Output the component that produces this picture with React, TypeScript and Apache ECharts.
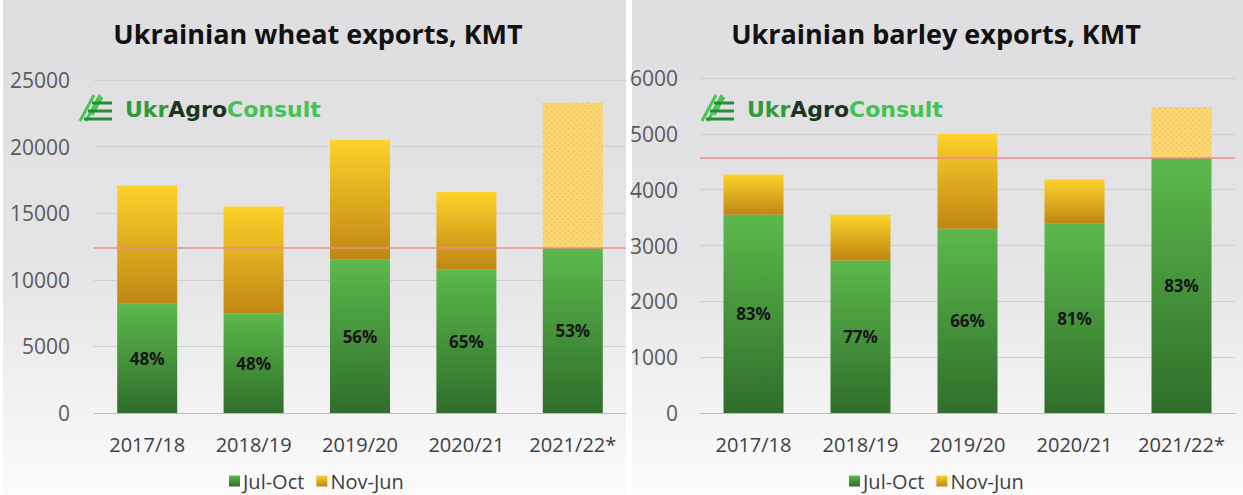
import React, { useEffect, useRef } from "react";
import * as echarts from "echarts";

const seasons = ["2017/18", "2018/19", "2019/20", "2020/21", "2021/22*"];
const wheatJulOct = [8200, 7450, 11500, 10800, 12400];
const wheatNovJun = [8900, 8050, 9000, 5800, 10900];
const wheatPct = ["48%", "48%", "56%", "65%", "53%"];
const wheatRef = 12400;
const wheatTicks = { min: 0, max: 25000, interval: 5000 };

const barleyJulOct = [3550, 2730, 3300, 3390, 4570];
const barleyNovJun = [720, 820, 1700, 790, 910];
const barleyPct = ["83%", "77%", "66%", "81%", "83%"];
const barleyRef = 4570;
const barleyTicks = { min: 0, max: 6000, interval: 1000 };

const titles = ["Ukrainian wheat exports, KMT", "Ukrainian barley exports, KMT"];
const legendNames = ["Jul-Oct", "Nov-Jun"];

const FONT = "'Open Sans', 'Noto Sans', sans-serif";

const greenGrad = () =>
  new echarts.graphic.LinearGradient(0, 0, 0, 1, [
    { offset: 0, color: "#5cb94b" },
    { offset: 1, color: "#2f6e2b" },
  ]);
const yellowGrad = () =>
  new echarts.graphic.LinearGradient(0, 0, 0, 1, [
    { offset: 0, color: "#fdd22a" },
    { offset: 1, color: "#bf8614" },
  ]);
const panelGrad = () =>
  new echarts.graphic.LinearGradient(0, 0, 0, 1, [
    { offset: 0, color: "#dedee0" },
    { offset: 0.55, color: "#e5e5e7" },
    { offset: 1, color: "#fbfbfb" },
  ]);

const forecastStyle = {
  color: "#fed872",
  decal: {
    symbol: "rect",
    symbolSize: 1,
    color: "rgba(200,165,80,0.35)",
    dashArrayX: [2, 2],
    dashArrayY: [2, 2],
    rotation: Math.PI / 4,
  },
};

function logo(x: number, y: number) {
  const children: any[] = [];
  const diag = [
    [2, 28, 16, 2],
    [8, 28, 22, 2],
    [14, 22, 24, 4],
  ];
  diag.forEach((d) =>
    children.push({
      type: "polyline",
      shape: { points: [[d[0], d[1]], [d[2], d[3]]] },
      style: { stroke: "#45c853", lineWidth: 3, fill: null },
    })
  );
  const hor = [
    [14, 10, 34, 10],
    [10, 18, 34, 18],
    [6, 26, 34, 26],
  ];
  hor.forEach((d) =>
    children.push({
      type: "polyline",
      shape: { points: [[d[0], d[1]], [d[2], d[3]]] },
      style: { stroke: "#2a8a35", lineWidth: 3, fill: null },
    })
  );
  children.push({
    type: "text",
    x: 47,
    y: 16,
    style: {
      text: "{a|Ukr}{b|Agro}{c|Consult}",
      verticalAlign: "middle",
      rich: {
        a: { fill: "#2f9a3c", fontSize: 22, fontWeight: "bold", fontFamily: "'DejaVu Sans', sans-serif" },
        b: { fill: "#1d3520", fontSize: 22, fontWeight: "bold", fontFamily: "'DejaVu Sans', sans-serif" },
        c: { fill: "#45c256", fontSize: 22, fontWeight: "bold", fontFamily: "'DejaVu Sans', sans-serif" },
      },
    },
  });
  return { type: "group", x, y, children };
}

export default function App() {
  const ref = useRef<HTMLDivElement>(null);
  useEffect(() => {
    if (!ref.current) return;
    const chart = echarts.init(ref.current, undefined, { renderer: "svg" });
    const grids = [
      { left: 94, width: 532, top: 80, height: 333 },
      { left: 700, width: 535, top: 78, height: 335 },
    ];
    const ticks = [wheatTicks, barleyTicks];
    const julOct = [wheatJulOct, barleyJulOct];
    const novJun = [wheatNovJun, barleyNovJun];
    const pct = [wheatPct, barleyPct];
    const refs = [wheatRef, barleyRef];

    const series: any[] = [];
    [0, 1].forEach((i) => {
      series.push({
        name: legendNames[0],
        type: "bar",
        stack: "s" + i,
        xAxisIndex: i,
        yAxisIndex: i,
        barWidth: 60,
        data: julOct[i],
        itemStyle: { color: greenGrad() },
        label: {
          show: true,
          position: "inside",
          formatter: (p: any) => pct[i][p.dataIndex],
          color: "#161616",
          fontSize: 17,
          fontWeight: "bold",
          fontFamily: FONT,
        },
        markLine: {
          silent: true,
          symbol: "none",
          label: { show: false },
          lineStyle: { color: "#ee8c8c", width: 1.5, type: "solid" },
          data: [{ yAxis: refs[i] }],
        },
      });
      series.push({
        name: legendNames[1],
        type: "bar",
        stack: "s" + i,
        xAxisIndex: i,
        yAxisIndex: i,
        barWidth: 60,
        data: novJun[i].map((v, k) =>
          k === novJun[i].length - 1 ? { value: v, itemStyle: forecastStyle } : v
        ),
        itemStyle: { color: yellowGrad() },
      });
    });

    chart.setOption({
      animation: false,
      graphic: [
        { type: "rect", z: -10, shape: { x: 3, y: 0, width: 623, height: 495 }, style: { fill: panelGrad() } },
        { type: "rect", z: -10, shape: { x: 632, y: 0, width: 611, height: 495 }, style: { fill: panelGrad() } },
        {
          type: "text",
          x: 318,
          y: 33,
          style: { text: titles[0], textAlign: "center", textVerticalAlign: "middle", fill: "#111", fontSize: 27, fontWeight: "bold", fontFamily: FONT },
        },
        {
          type: "text",
          x: 936,
          y: 33,
          style: { text: titles[1], textAlign: "center", textVerticalAlign: "middle", fill: "#111", fontSize: 27, fontWeight: "bold", fontFamily: FONT },
        },
        logo(78, 93),
        logo(700, 93),
      ],
      legend: [0, 1].map((i) => ({
        data: legendNames,
        left: i === 0 ? 224 : 844,
        top: 466,
        icon: "rect",
        itemWidth: 11,
        itemHeight: 11,
        itemGap: 12,
        selectedMode: false,
        textStyle: { fontSize: 20, color: "#404040", fontFamily: FONT, padding: [0, 0, 0, -2] },
      })),
      grid: grids,
      xAxis: [0, 1].map((i) => ({
        type: "category",
        gridIndex: i,
        data: seasons,
        axisTick: { show: false },
        axisLine: { lineStyle: { color: "#bdbdbd" } },
        axisLabel: { interval: 0, fontSize: 20, color: "#404040", fontFamily: FONT, margin: 21 },
      })),
      yAxis: [0, 1].map((i) => ({
        type: "value",
        gridIndex: i,
        min: ticks[i].min,
        max: ticks[i].max,
        interval: ticks[i].interval,
        axisLine: { show: false },
        axisTick: { show: false },
        splitLine: { lineStyle: { color: "#cfcfcf" } },
        axisLabel: {
          fontSize: 21,
          color: "#5a5a5a",
          fontFamily: FONT,
          margin: i === 0 ? 24 : 22,
          formatter: (v: number) => String(v),
        },
      })),
      series,
    });
    return () => chart.dispose();
  }, []);
  return <div ref={ref} style={{ position: "absolute", left: 0, top: 0, width: 1243, height: 495 }} />;
}
